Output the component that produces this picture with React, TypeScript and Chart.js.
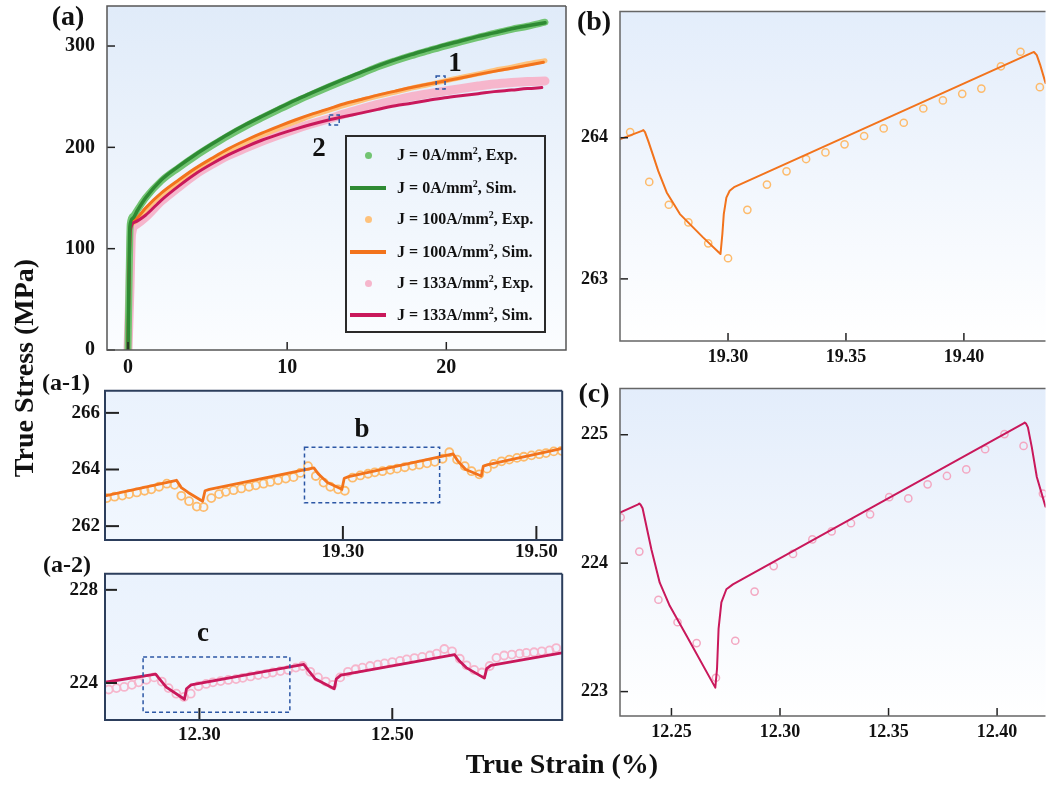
import React, { useEffect, useRef } from "react";
import { Chart, registerables } from "chart.js";
Chart.register(...registerables);

const SERIF = "'Liberation Serif', 'Times New Roman', Times, serif";

// ---------- panel (a): full curves ----------
const aXTicks = [0, 10, 20];
const aYTicks = [0, 100, 200, 300];

const gSimStrain = [0, 0.05, 0.12, 0.3, 0.6, 1.1, 2.1, 3.2, 4.2, 5.3, 6.3, 7.4, 8.4, 9.5, 10.5, 11.5, 12.6, 13.6, 14.7, 15.7, 16.8, 17.8, 18.9, 19.9, 20.9, 22.0, 23.0, 24.1, 25.1, 26.2];
const gSimStress = [0, 60, 122, 130, 138, 150, 168, 181.5, 192.5, 203.5, 213, 222.5, 230.5, 239, 246.5, 253.5, 261, 267.5, 274.5, 280.5, 286.5, 291.5, 296.5, 301, 305, 309.5, 313, 317, 320, 323];
const gExpStrain = [0, 0.06, 0.14, 0.32, 0.62, 1.1, 2.1, 3.2, 4.2, 5.3, 6.3, 7.4, 8.4, 9.5, 10.5, 11.5, 12.6, 13.6, 14.7, 15.7, 16.8, 17.8, 18.9, 19.9, 20.9, 22.0, 23.0, 24.1, 25.1, 26.2];
const gExpStress = [0, 60, 124, 132, 139, 150, 167, 180, 191, 202, 211.5, 221, 229, 237.5, 245, 252, 259.5, 266, 273, 279.5, 285.5, 290.5, 295.5, 300, 304, 308.5, 312.5, 316.5, 319.5, 323.5];

const oSimStrain = [0, 0.05, 0.13, 0.3, 0.67, 1.1, 2.1, 3.2, 4.2, 5.3, 6.3, 7.4, 8.4, 9.5, 10.5, 11.5, 12.6, 13.6, 14.7, 15.7, 16.8, 17.8, 18.9, 19.9, 20.9, 22.0, 23.0, 24.1, 25.1, 26.1];
const oSimStress = [0, 60, 120, 127, 132, 140, 155, 168, 179, 189.5, 198.5, 207, 214, 221, 227, 232.5, 238, 243, 247.5, 251.5, 255.5, 259, 262.5, 265.5, 268.5, 272, 275, 278, 281, 284];
const oExpStrain = [0, 0.07, 0.15, 0.32, 0.7, 1.1, 2.1, 3.2, 4.2, 5.3, 6.3, 7.4, 8.4, 9.5, 10.5, 11.5, 12.6, 13.6, 14.7, 15.7, 16.8, 17.8, 18.9, 19.9, 20.9, 22.0, 23.0, 24.1, 25.1, 26.2];
const oExpStress = [0, 58, 118, 125, 130, 138, 153, 166, 177, 187.5, 196.5, 205, 212, 219, 225, 231, 236.5, 241.5, 246.5, 250.5, 254.5, 258.5, 262, 265.5, 269, 272.5, 276, 279, 282.5, 285.5];

const mSimStrain = [0, 0.05, 0.15, 0.4, 1.1, 2.1, 3.2, 4.2, 5.3, 6.3, 7.4, 8.4, 9.5, 10.5, 11.5, 12.6, 13.6, 14.7, 15.7, 16.8, 17.8, 18.9, 19.9, 20.9, 22.0, 23.0, 24.1, 25.1, 26.0];
const mSimStress = [0, 58, 118, 126, 133, 148, 162, 173.5, 184, 192.5, 200.5, 207, 213, 218, 222.5, 227, 230.5, 234, 237.5, 241, 243.5, 246.5, 249, 251, 253, 255, 256.5, 258, 259];
const pExpStrain = [0, 0.12, 0.22, 0.45, 1.1, 2.1, 3.2, 4.2, 5.3, 6.3, 7.4, 8.4, 9.5, 10.5, 11.5, 12.6, 13.6, 14.7, 15.7, 16.8, 17.8, 18.9, 19.9, 20.9, 22.0, 23.0, 24.1, 25.1, 26.2];
const pExpStress = [0, 60, 114, 123, 131, 147, 161, 173, 183.5, 192, 199.5, 206, 212.5, 218, 223, 228, 233, 238, 242.5, 246.5, 250, 253, 255.5, 258, 260.5, 262.5, 264, 265, 265.5];

const aBox1 = { x0: 19.36, x1: 19.92, y0: 257.5, y1: 270.5 };
const aBox2 = { x0: 12.65, x1: 13.27, y0: 222, y1: 232 };

// ---------- panel (a-1): J = 100 A/mm2 detail ----------
const a1XTicks = [19.3, 19.5];
const a1YTicks = [262, 264, 266];
const a1SimStrain = [19.054, 19.128, 19.133, 19.140, 19.155, 19.1575, 19.162, 19.270, 19.275, 19.284, 19.299, 19.3014, 19.306, 19.414, 19.419, 19.427, 19.443, 19.4452, 19.450, 19.527];
const a1SimStress = [263.07, 263.62, 263.36, 263.19, 262.88, 263.25, 263.30, 264.06, 263.83, 263.54, 263.30, 263.69, 263.75, 264.55, 264.29, 264.00, 263.77, 264.12, 264.17, 264.75];
const a1ExpStrain = [19.056, 19.064, 19.072, 19.079, 19.087, 19.095, 19.102, 19.110, 19.118, 19.126, 19.133, 19.141, 19.149, 19.156, 19.164, 19.172, 19.179, 19.187, 19.195, 19.203, 19.210, 19.218, 19.225, 19.233, 19.241, 19.249, 19.256, 19.264, 19.272, 19.280, 19.287, 19.295, 19.302, 19.310, 19.318, 19.326, 19.333, 19.341, 19.349, 19.356, 19.364, 19.372, 19.379, 19.387, 19.395, 19.403, 19.410, 19.418, 19.426, 19.433, 19.441, 19.449, 19.456, 19.464, 19.472, 19.480, 19.487, 19.495, 19.503, 19.510, 19.518, 19.526];
const a1ExpStress = [262.99, 263.04, 263.08, 263.13, 263.19, 263.25, 263.30, 263.39, 263.50, 263.46, 263.07, 262.88, 262.69, 262.67, 262.99, 263.13, 263.21, 263.27, 263.33, 263.39, 263.44, 263.50, 263.56, 263.62, 263.68, 263.73, 263.88, 264.12, 263.77, 263.54, 263.39, 263.30, 263.25, 263.71, 263.79, 263.85, 263.90, 263.94, 263.99, 264.03, 264.08, 264.13, 264.17, 264.22, 264.27, 264.38, 264.61, 264.35, 264.12, 263.94, 263.83, 264.03, 264.20, 264.29, 264.35, 264.41, 264.45, 264.50, 264.54, 264.58, 264.64, 264.66];
const a1Box = { x0: 19.2603, x1: 19.4, y0: 262.83, y1: 264.79 };

// ---------- panel (a-2): J = 133 A/mm2 detail ----------
const a2XTicks = [12.3, 12.5];
const a2YTicks = [224, 228];
const a2SimStrain = [12.202, 12.2546, 12.2588, 12.2656, 12.2845, 12.2866, 12.2914, 12.4082, 12.4134, 12.4203, 12.4398, 12.4419, 12.4467, 12.5646, 12.5697, 12.5766, 12.5955, 12.5979, 12.6024, 12.676];
const a2SimStress = [224.03, 224.38, 224.17, 223.82, 223.30, 223.75, 223.92, 224.80, 224.52, 224.17, 223.75, 224.17, 224.34, 225.22, 224.94, 224.66, 224.21, 224.62, 224.76, 225.29];
const a2ExpStrain = [12.206, 12.214, 12.222, 12.230, 12.237, 12.245, 12.253, 12.261, 12.268, 12.276, 12.284, 12.291, 12.299, 12.307, 12.314, 12.322, 12.330, 12.338, 12.345, 12.353, 12.361, 12.369, 12.376, 12.384, 12.392, 12.400, 12.407, 12.415, 12.423, 12.431, 12.438, 12.446, 12.454, 12.462, 12.469, 12.477, 12.485, 12.492, 12.500, 12.508, 12.515, 12.523, 12.531, 12.539, 12.546, 12.554, 12.562, 12.570, 12.577, 12.585, 12.593, 12.601, 12.608, 12.616, 12.624, 12.632, 12.639, 12.647, 12.655, 12.663, 12.670];
const a2ExpStress = [223.72, 223.78, 223.83, 223.92, 224.03, 224.14, 224.24, 224.06, 223.78, 223.54, 223.40, 223.54, 223.86, 223.96, 224.03, 224.08, 224.13, 224.17, 224.22, 224.28, 224.34, 224.39, 224.45, 224.51, 224.56, 224.66, 224.73, 224.48, 224.24, 224.06, 223.92, 224.24, 224.48, 224.59, 224.66, 224.73, 224.79, 224.84, 224.90, 224.95, 225.01, 225.07, 225.12, 225.18, 225.26, 225.46, 225.36, 225.04, 224.76, 224.56, 224.45, 224.73, 225.08, 225.18, 225.22, 225.26, 225.29, 225.32, 225.36, 225.40, 225.50];
const a2Box = { x0: 12.2416, x1: 12.3938, y0: 222.74, y1: 225.12 };

// ---------- panel (b) ----------
const bXTicks = [19.3, 19.35, 19.4];
const bYTicks = [263, 264];
const bSimStrain = [19.254, 19.2635, 19.2641, 19.2648, 19.2662, 19.2683, 19.2704, 19.2740, 19.2796, 19.2894, 19.2968, 19.2976, 19.2982, 19.2993, 19.3007, 19.3028, 19.4290, 19.4297, 19.4309, 19.4323, 19.4346];
const bSimStress = [263.988, 264.048, 264.054, 264.040, 263.976, 263.871, 263.765, 263.612, 263.459, 263.294, 263.176, 263.318, 263.459, 263.576, 263.624, 263.652, 264.603, 264.607, 264.585, 264.518, 264.388];
const bExpStrain = [19.2585, 19.2666, 19.2749, 19.2832, 19.2916, 19.3000, 19.3082, 19.3165, 19.3248, 19.3331, 19.3413, 19.3494, 19.3577, 19.3660, 19.3745, 19.3828, 19.3911, 19.3993, 19.4074, 19.4157, 19.4240, 19.4322];
const bExpStress = [264.040, 263.687, 263.525, 263.400, 263.252, 263.146, 263.489, 263.668, 263.762, 263.849, 263.896, 263.953, 264.012, 264.066, 264.106, 264.207, 264.264, 264.311, 264.348, 264.506, 264.609, 264.358];

// ---------- panel (c) ----------
const cXTicks = [12.25, 12.3, 12.35, 12.4];
const cYTicks = [223, 224, 225];
const cSimStrain = [12.2263, 12.2347, 12.2352, 12.2358, 12.2367, 12.2385, 12.2408, 12.2446, 12.2492, 12.2569, 12.2702, 12.2710, 12.2717, 12.2730, 12.2753, 12.2783, 12.4122, 12.4127, 12.4134, 12.4142, 12.4160, 12.4183, 12.4223];
const cSimStress = [224.393, 224.458, 224.465, 224.455, 224.427, 224.285, 224.105, 223.848, 223.668, 223.437, 223.031, 223.180, 223.488, 223.694, 223.797, 223.835, 225.088, 225.095, 225.085, 225.057, 224.902, 224.671, 224.440];
const cExpStrain = [12.2266, 12.2352, 12.2440, 12.2528, 12.2616, 12.2705, 12.2794, 12.2883, 12.2971, 12.3060, 12.3149, 12.3238, 12.3327, 12.3415, 12.3503, 12.3591, 12.3680, 12.3769, 12.3858, 12.3945, 12.4034, 12.4122, 12.4211];
const cExpStress = [224.357, 224.090, 223.715, 223.540, 223.378, 223.108, 223.396, 223.779, 223.977, 224.072, 224.185, 224.247, 224.311, 224.380, 224.514, 224.504, 224.614, 224.679, 224.730, 224.887, 225.005, 224.913, 224.542];

// ---------- legend ----------
const legendCurrents = ["0", "0", "100", "100", "133", "133"];
const legendKinds = ["Exp.", "Sim.", "Exp.", "Sim.", "Exp.", "Sim."];

const C = {
  gSim: "#2e8a33", gExp: "#72c472",
  oSim: "#f2731c", oExp: "#fec27c",
  mSim: "#c9185b", pExp: "#f6b6cc",
  oCirc: "#fdbb6c", pCirc: "#f3a8c2",
  dash: "#2c57a5",
};
const legendColors = [C.gExp, C.gSim, C.oExp, C.oSim, C.pExp, C.mSim];

const mk = (xs: number[], ys: number[]) => xs.map((x, i) => ({ x, y: ys[i] }));

function lineDs(xs: number[], ys: number[], color: string, width: number, extra: any = {}) {
  return {
    data: mk(xs, ys), borderColor: color, backgroundColor: color, borderWidth: width,
    pointRadius: 0, showLine: true, fill: false, cubicInterpolationMode: "monotone",
    borderCapStyle: "round", borderJoinStyle: "round", order: 0, ...extra,
  };
}
function straightDs(xs: number[], ys: number[], color: string, width: number) {
  return lineDs(xs, ys, color, width, { cubicInterpolationMode: "default", tension: 0 });
}
function circDs(xs: number[], ys: number[], color: string, r: number, bw: number) {
  return {
    data: mk(xs, ys), showLine: false, pointRadius: r, pointBorderWidth: bw,
    pointBorderColor: color, pointBackgroundColor: "rgba(255,255,255,0)",
    borderColor: color, backgroundColor: "rgba(0,0,0,0)", order: 1,
  };
}

type Box = { x0: number; x1: number; y0: number; y1: number };
type Spec = {
  area: { l: number; t: number; r: number; b: number };
  yw: number; xh: number; padT: number; padR: number;
  xMin: number; xMax: number; yMin: number; yMax: number;
  xTicks: number[]; yTicks: number[]; xDec: number; yDec: number;
  xPad: number; yPad: number; fontSize: number;
  tickLen: number; tickW: number;
  bg: [string, string]; border: string; borderW: number; noRight?: boolean;
  boxes: Box[]; datasets: any[];
};

function Panel({ spec }: { spec: Spec }) {
  const ref = useRef<HTMLCanvasElement>(null);
  const W = spec.area.r - spec.area.l + spec.yw + spec.padR;
  const H = spec.area.b - spec.area.t + spec.padT + spec.xh;
  useEffect(() => {
    const deco = {
      id: "deco",
      beforeDraw(chart: any) {
        const { ctx, chartArea: a } = chart;
        ctx.save();
        const g = ctx.createLinearGradient(0, a.top, 0, a.bottom);
        g.addColorStop(0, spec.bg[0]);
        g.addColorStop(1, spec.bg[1]);
        ctx.fillStyle = g;
        ctx.fillRect(a.left, a.top, a.right - a.left, a.bottom - a.top);
        ctx.restore();
      },
      afterDraw(chart: any) {
        const { ctx, chartArea: a } = chart;
        const xs = chart.scales.x, ys = chart.scales.y;
        ctx.save();
        ctx.strokeStyle = "#222";
        ctx.lineWidth = spec.tickW;
        spec.xTicks.forEach((v) => {
          const px = xs.getPixelForValue(v);
          ctx.beginPath(); ctx.moveTo(px, a.bottom); ctx.lineTo(px, a.bottom - spec.tickLen); ctx.stroke();
        });
        spec.yTicks.forEach((v) => {
          const py = ys.getPixelForValue(v);
          ctx.beginPath(); ctx.moveTo(a.left, py); ctx.lineTo(a.left + spec.tickLen, py); ctx.stroke();
        });
        ctx.strokeStyle = C.dash;
        ctx.lineWidth = 1.5;
        ctx.setLineDash([4, 3]);
        spec.boxes.forEach((b) => {
          const x0 = xs.getPixelForValue(b.x0), x1 = xs.getPixelForValue(b.x1);
          const y0 = ys.getPixelForValue(b.y0), y1 = ys.getPixelForValue(b.y1);
          ctx.strokeRect(x0, y1, x1 - x0, y0 - y1);
        });
        ctx.setLineDash([]);
        ctx.strokeStyle = spec.border;
        ctx.lineWidth = spec.borderW;
        ctx.beginPath();
        ctx.moveTo(a.right, a.top);
        ctx.lineTo(a.left, a.top);
        ctx.lineTo(a.left, a.bottom);
        ctx.lineTo(a.right, a.bottom);
        if (!spec.noRight) ctx.lineTo(a.right, a.top);
        ctx.stroke();
        ctx.restore();
      },
    };
    const font = { family: SERIF, size: spec.fontSize, weight: "bold" as const };
    const chart = new Chart(ref.current as HTMLCanvasElement, {
      type: "line",
      data: { datasets: spec.datasets },
      options: {
        animation: false,
        responsive: false,
        devicePixelRatio: 1,
        layout: { padding: { top: spec.padT, right: spec.padR, left: 0, bottom: 0 } },
        plugins: { legend: { display: false }, tooltip: { enabled: false } },
        scales: {
          x: {
            type: "linear", min: spec.xMin, max: spec.xMax,
            afterBuildTicks: (s: any) => { s.ticks = spec.xTicks.map((v) => ({ value: v })); },
            afterFit: (s: any) => { s.height = spec.xh; s.paddingLeft = 0; s.paddingRight = 0; },
            ticks: { callback: (v: any) => Number(v).toFixed(spec.xDec), font, color: "#111", padding: spec.xPad, maxRotation: 0, autoSkip: false },
            grid: { display: false, drawTicks: false },
            border: { display: false },
          },
          y: {
            type: "linear", min: spec.yMin, max: spec.yMax,
            afterBuildTicks: (s: any) => { s.ticks = spec.yTicks.map((v) => ({ value: v })); },
            afterFit: (s: any) => { s.width = spec.yw; s.paddingTop = 0; s.paddingBottom = 0; },
            ticks: { callback: (v: any) => Number(v).toFixed(spec.yDec), font, color: "#111", padding: spec.yPad, autoSkip: false },
            grid: { display: false, drawTicks: false },
            border: { display: false },
          },
        },
      } as any,
      plugins: [deco],
    });
    return () => chart.destroy();
  }, []);
  return (
    <canvas ref={ref} width={W} height={H}
      style={{ position: "absolute", left: spec.area.l - spec.yw, top: spec.area.t - spec.padT, width: W, height: H }} />
  );
}

const specA: Spec = {
  area: { l: 107, t: 6, r: 566, b: 350 }, yw: 80, xh: 40, padT: 4, padR: 4,
  xMin: -1.32, xMax: 27.52, yMin: 0, yMax: 339.5,
  xTicks: aXTicks, yTicks: aYTicks, xDec: 0, yDec: 0, xPad: 6, yPad: 12, fontSize: 20,
  tickLen: 8, tickW: 1.5, bg: ["#e0ebf9", "#fbfdff"], border: "#555", borderW: 1.5,
  boxes: [aBox1, aBox2],
  datasets: [
    lineDs(gSimStrain, gSimStress, C.gSim, 3.5),
    lineDs(mSimStrain, mSimStress, C.mSim, 3),
    lineDs(oSimStrain, oSimStress, C.oSim, 3),
    lineDs(gExpStrain, gExpStress, C.gExp, 7, { order: 1 }),
    lineDs(oExpStrain, oExpStress, C.oExp, 5, { order: 1 }),
    lineDs(pExpStrain, pExpStress, C.pExp, 9, { order: 2 }),
  ],
};

const specA1: Spec = {
  area: { l: 105, t: 388, r: 565, b: 540 }, yw: 60, xh: 30, padT: 3, padR: 3,
  xMin: 19.0541, xMax: 19.5267, yMin: 261.51, yMax: 266.78,
  xTicks: a1XTicks, yTicks: a1YTicks, xDec: 2, yDec: 0, xPad: 1, yPad: 5, fontSize: 19,
  tickLen: 14, tickW: 2, bg: ["#eaf2fd", "#f1f7fe"], border: "#2c3e5c", borderW: 2,
  boxes: [a1Box],
  datasets: [
    straightDs(a1SimStrain, a1SimStress, C.oSim, 2.8),
    circDs(a1ExpStrain, a1ExpStress, C.oCirc, 4, 1.8),
  ],
};

const specA2: Spec = {
  area: { l: 105, t: 571, r: 565, b: 720 }, yw: 60, xh: 30, padT: 3, padR: 3,
  xMin: 12.2021, xMax: 12.6762, yMin: 222.41, yMax: 228.69,
  xTicks: a2XTicks, yTicks: a2YTicks, xDec: 2, yDec: 0, xPad: 4, yPad: 7, fontSize: 19,
  tickLen: 12, tickW: 2, bg: ["#eaf2fd", "#f1f7fe"], border: "#2c3e5c", borderW: 2,
  boxes: [a2Box],
  datasets: [
    straightDs(a2SimStrain, a2SimStress, C.mSim, 2.8),
    circDs(a2ExpStrain, a2ExpStress, C.pExp, 4, 1.8),
  ],
};

const specB: Spec = {
  area: { l: 620, t: 9, r: 1047, b: 341 }, yw: 55, xh: 35, padT: 3, padR: 4,
  xMin: 19.2542, xMax: 19.4346, yMin: 262.56, yMax: 264.894,
  xTicks: bXTicks, yTicks: bYTicks, xDec: 2, yDec: 0, xPad: 6, yPad: 12, fontSize: 18,
  tickLen: 8, tickW: 1.5, bg: ["#e3edfb", "#ffffff"], border: "#666", borderW: 1.5, noRight: true,
  boxes: [],
  datasets: [
    straightDs(bSimStrain, bSimStress, C.oSim, 2),
    circDs(bExpStrain, bExpStress, C.oCirc, 3.6, 1.5),
  ],
};

const specC: Spec = {
  area: { l: 620, t: 386, r: 1047, b: 716 }, yw: 55, xh: 35, padT: 3, padR: 4,
  xMin: 12.2263, xMax: 12.4223, yMin: 222.81, yMax: 225.36,
  xTicks: cXTicks, yTicks: cYTicks, xDec: 2, yDec: 0, xPad: 6, yPad: 12, fontSize: 18,
  tickLen: 8, tickW: 1.5, bg: ["#e3edfb", "#ffffff"], border: "#666", borderW: 1.5, noRight: true,
  boxes: [],
  datasets: [
    straightDs(cSimStrain, cSimStress, C.mSim, 2),
    circDs(cExpStrain, cExpStress, C.pCirc, 3.6, 1.5),
  ],
};

function Label({ x, y, size, children, rotate }: any) {
  return (
    <div style={{
      position: "absolute", left: x, top: y, fontSize: size, fontWeight: "bold", lineHeight: 1,
      whiteSpace: "nowrap", color: "#111",
      transform: `translate(-50%, -50%)${rotate ? " rotate(-90deg)" : ""}`,
    }}>{children}</div>
  );
}

const legendRowY = [18, 50.7, 82.3, 114.7, 146.3, 178];

function Legend() {
  return (
    <div style={{ position: "absolute", left: 345, top: 135, width: 201, height: 198, border: "2px solid #2a2a2a", boxSizing: "border-box" }}>
      {legendCurrents.map((j, i) => (
        <div key={i} style={{ position: "absolute", left: 0, top: legendRowY[i] - 11, height: 22, width: "100%" }}>
          {legendKinds[i] === "Exp." ? (
            <div style={{ position: "absolute", left: 17.5, top: 7.5, width: 7, height: 7, borderRadius: 4, background: legendColors[i] }} />
          ) : (
            <div style={{ position: "absolute", left: 3, top: 9, width: 36, height: 4, background: legendColors[i] }} />
          )}
          <div style={{ position: "absolute", left: 50, top: 0, lineHeight: "22px", fontSize: 16, fontWeight: "bold", whiteSpace: "nowrap", color: "#111" }}>
            J = {j}A/mm<sup style={{ fontSize: 10, verticalAlign: "top", lineHeight: "14px" }}>2</sup>, {legendKinds[i]}
          </div>
        </div>
      ))}
    </div>
  );
}

export default function App() {
  return (
    <div style={{ position: "absolute", left: 0, top: 0, width: 1047, height: 787, overflow: "hidden", background: "#fff", fontFamily: SERIF }}>
      <Panel spec={specA} />
      <Panel spec={specA1} />
      <Panel spec={specA2} />
      <Panel spec={specB} />
      <Panel spec={specC} />
      <Legend />
      <Label x={68} y={16} size={28}>(a)</Label>
      <Label x={594} y={21} size={28}>(b)</Label>
      <Label x={594} y={393} size={28}>(c)</Label>
      <Label x={66} y={382} size={24}>(a-1)</Label>
      <Label x={67} y={564} size={24}>(a-2)</Label>
      <Label x={455} y={62} size={27}>1</Label>
      <Label x={319} y={147} size={27}>2</Label>
      <Label x={362} y={428} size={27}>b</Label>
      <Label x={203} y={632} size={27}>c</Label>
      <Label x={562} y={764} size={28}>True Strain (%)</Label>
      <Label x={24} y={368} size={28} rotate>True Stress (MPa)</Label>
    </div>
  );
}
